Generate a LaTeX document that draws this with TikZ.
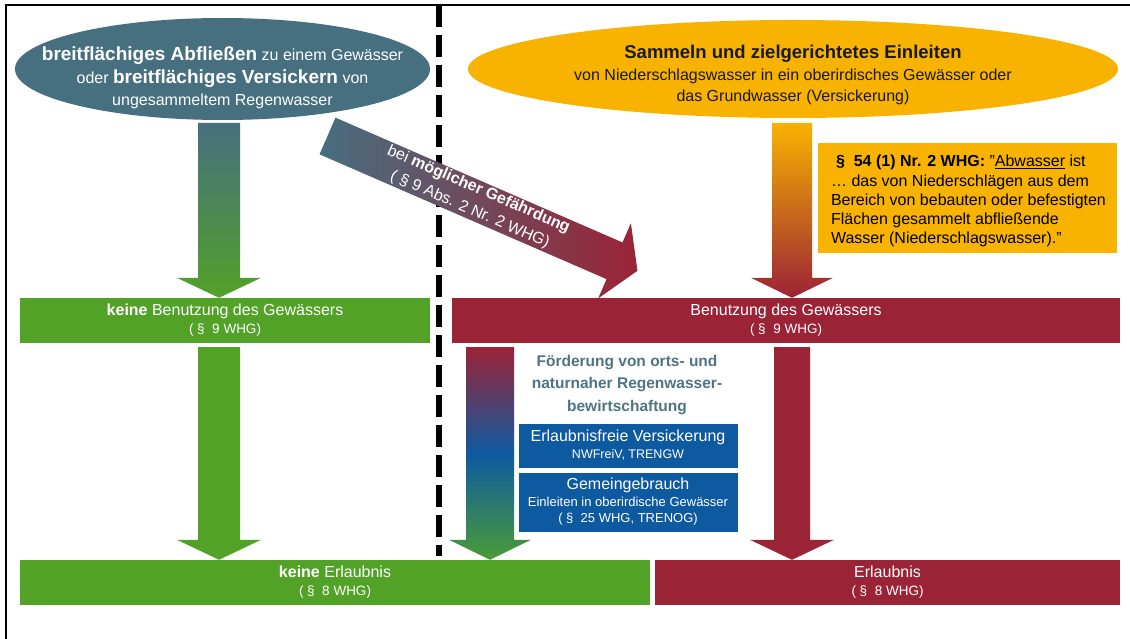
\documentclass[tikz,border=0pt]{standalone}
\usepackage{fontspec}
\setmainfont{Liberation Sans}
\usepackage{tikz}
\usetikzlibrary{shapes.geometric,calc}
\definecolor{petrol}{RGB}{70,111,128}
\definecolor{amber}{RGB}{248,178,0}
\definecolor{leafgreen}{RGB}{82,162,40}
\definecolor{winered}{RGB}{155,35,54}
\definecolor{royalblue}{RGB}{14,90,160}
\definecolor{arrowgreen}{RGB}{75,155,55}
\definecolor{foerdtext}{RGB}{78,116,132}

\newcommand{\sz}[2]{\fontsize{#1}{#2}\selectfont}
\newcommand{\bfbig}[1]{{\sz{19}{22.5}\bfseries #1}}
% fat arrow pointing down: shading, top, tip, half shaft, half head
\newcommand{\blockpfeil}[5]{%
	\shade[#1] let \p1=#2, \p2=#3 in
		(\x1-#4,\y1) -- (\x1-#4,\y2+20pt) -- (\x1-#5,\y2+20pt) -- (\x1,\y2)
		-- (\x1+#5,\y2+20pt) -- (\x1+#4,\y2+20pt) -- (\x1+#4,\y1) -- cycle;}

\begin{document}
\begin{tikzpicture}[x=1pt, y=-1pt,
		every node/.style={font=\sz{16}{18}},
		bar/.style={rectangle, inner sep=0pt, text=white, align=center, minimum height=45pt},
		bluebox/.style={rectangle, fill=royalblue, draw=white, line width=1pt, text=white, align=center, minimum width=220pt, inner sep=0pt}]

		\fill[white] (0,0) rectangle (1130,639);
		\useasboundingbox (0,0) rectangle (1130,639);

		% frame
		\draw[line width=2pt] (6,639) -- (6,5) -- (1130,5);

		% dividing line
		\coordinate (trennOben) at (439,5);
		\coordinate (trennUnten) at (439,556);
		\draw[line width=6pt, dash pattern=on 22pt off 8pt] (trennOben) -- (trennUnten);

		% the two sources
		\node[ellipse, fill=petrol, minimum width=415pt, minimum height=102pt, inner sep=0pt] (quelleL) at (222.5,69) {};
		\node[text=white, align=center, font=\sz{16}{22.5}] (quelleLtext) at ([yshift=-9pt]quelleL.center)
			{\bfbig{breitflächiges Abfließen} zu einem Gewässer\\oder \bfbig{breitflächiges Versickern} von\\ungesammeltem Regenwasser};

		\node[ellipse, fill=amber, minimum width=650pt, minimum height=98pt, inner sep=0pt] (quelleR) at (793,69) {};
		\node[text=black!90, align=center, font=\sz{16}{21.5}] (quelleRtext) at ([yshift=-6pt]quelleR.center)
			{{\sz{18.5}{21.5}\bfseries Sammeln und zielgerichtetes Einleiten}\\von Niederschlagswasser in ein oberirdisches Gewässer oder\\das Grundwasser (Versickerung)};

		% definition box
		\node[rectangle, fill=amber, minimum width=299pt, minimum height=110pt, inner sep=0pt, align=left, font=\sz{16}{19.3}] (abwasser) at (967.5,198)
			{\rule{0pt}{18pt}\hspace*{7pt}\textbf{§\ \ 54 (1) Nr. 2 WHG:} "\underline{Abwasser} ist\\\hspace*{2pt}… das von Niederschlägen aus dem\\\hspace*{2pt}Bereich von bebauten oder befestigten\\\hspace*{2pt}Flächen gesammelt abfließende\\\hspace*{2pt}Wasser (Niederschlagswasser)."};

		% Benutzung
		\node[bar, fill=leafgreen, minimum width=410pt] (nutzungL) at (225,320.5)
			{\textbf{keine} Benutzung des Gewässers\\{\sz{13.5}{18}(\ §\ \ 9 WHG)}};
		\node[bar, fill=winered, minimum width=668pt] (nutzungR) at (786,320.5)
			{Benutzung des Gewässers\\{\sz{13.5}{18}(\ §\ \ 9 WHG)}};

		% Erlaubnis
		\node[bar, fill=leafgreen, minimum width=630pt] (erlaubL) at (335,582.5)
			{\textbf{keine} Erlaubnis\\{\sz{13.5}{18}(\ §\ \ 8 WHG)}};
		\node[bar, fill=winered, minimum width=465pt] (erlaubR) at (887.5,582.5)
			{Erlaubnis\\{\sz{13.5}{18}(\ §\ \ 8 WHG)}};

		% Foerderung
		\node[text=foerdtext, align=center, font=\sz{15.5}{22.5}\bfseries] (foerd) at (627,385)
			{Förderung von orts- und\\naturnaher Regenwasser-\\bewirtschaftung};
		\node[bluebox, minimum height=45pt, font=\sz{16}{17}] (versick) at (628,445.5)
			{Erlaubnisfreie Versickerung\\{\sz{12.5}{17}NWFreiV, TRENGW}};
		\node[bluebox, minimum height=60pt, font=\sz{16}{16.5}] (gemein) at (628,502)
			{Gemeingebrauch\\{\sz{13}{16.5}Einleiten in oberirdische Gewässer}\\{\sz{13}{16.5}(\ §\ \ 25 WHG, TRENOG)}};

		% arrows
		\coordinate (pfeilL) at (219,123);
		\coordinate (pfeilR) at (792,123);
		\coordinate (pfeilLL) at (219,347);
		\coordinate (pfeilM) at (490,347);
		\coordinate (pfeilRR) at (792,347);

		\blockpfeil{top color=petrol, bottom color=leafgreen}{(pfeilL)}{(nutzungL.north -| pfeilL)}{21pt}{42pt}
		\blockpfeil{top color=amber, bottom color=winered}{(pfeilR)}{(nutzungR.north -| pfeilR)}{20pt}{41pt}
		\blockpfeil{top color=leafgreen, bottom color=leafgreen}{(pfeilLL)}{(erlaubL.north -| pfeilLL)}{21pt}{42pt}
		\blockpfeil{top color=winered, bottom color=arrowgreen, middle color=royalblue}{(pfeilM)}{(erlaubL.north -| pfeilM)}{24pt}{41pt}
		\blockpfeil{top color=winered, bottom color=winered}{(pfeilRR)}{(erlaubR.north -| pfeilRR)}{18pt}{42pt}

		% diagonal arrow
		\begin{scope}[shift={(327.5,136)}, rotate=-23.5]
			\shade[left color=petrol, right color=winered] (0,-20) -- (313,-20) -- (313,-41) -- (338,0) -- (313,41) -- (313,20) -- (0,20) -- cycle;
			\node[rotate=-23.5, text=white, align=center, font=\sz{16}{22}] (gefahr) at (160,0)
				{bei \textbf{möglicher Gefährdung}\\(\ §\ 9 Abs. 2 Nr. 2 WHG)};
		\end{scope}

\end{tikzpicture}
\end{document}
